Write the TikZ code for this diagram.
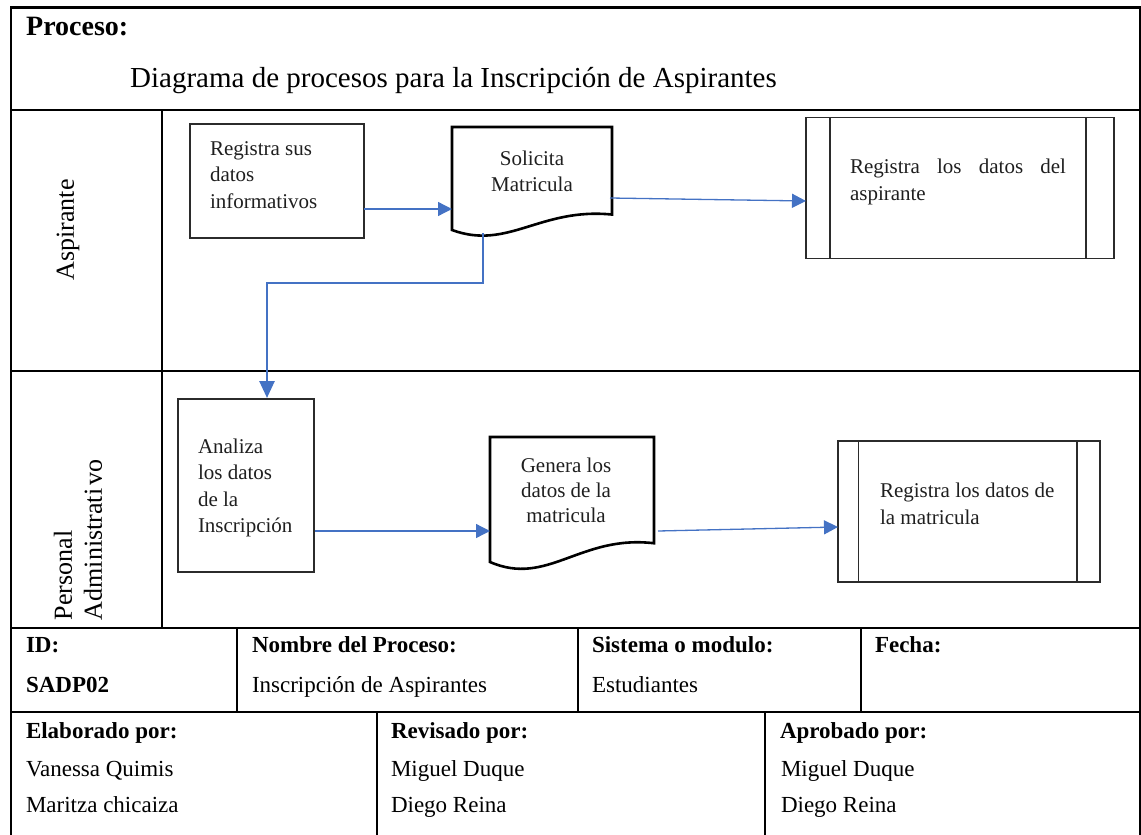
\documentclass[tikz,border=0pt]{standalone}
\usepackage{fontspec}
\setmainfont{Liberation Serif}
\usetikzlibrary{arrows.meta,calc}
\definecolor{flowblue}{HTML}{4472C4}
\definecolor{edgegray}{HTML}{2B2B2B}
\tikzset{
  hline/.style={line width=2.4pt, black},
  vline/.style={line width=2pt, black},
  procbox/.style={draw=edgegray, line width=1.3pt, rectangle, inner sep=0pt, outer sep=0pt},
  procline/.style={draw=edgegray, line width=1.3pt},
  docbox/.style={rectangle, inner sep=0pt, outer sep=0pt},
  docline/.style={draw=black, line width=2.6pt, line join=miter},
  flow/.style={draw=flowblue, line width=1.3pt, -{Triangle[length=14pt,width=14pt]}},
  elbow/.style={draw=flowblue, line width=2.6pt, -{Triangle[length=17pt,width=15pt]}},
  boxtxt/.style={inner sep=0pt, outer sep=0pt, text=black!88, font=\fontsize{21}{26.5}\selectfont},
  lanetxt/.style={inner sep=0pt, outer sep=0pt, rotate=90, align=left, font=\fontsize{26}{30}\selectfont},
  tabtxt/.style={inner sep=0pt, outer sep=0pt, anchor=base west, font=\fontsize{23}{28}\selectfont},
  tabhead/.style={tabtxt, font=\fontsize{23}{28}\selectfont\bfseries},
}
\newcommand\docoutline[1]{%
  \draw[docline] (#1.north west) -- (#1.north east) -- ($(#1.north east)!0.85!(#1.south east)$)
  .. controls ($($(#1.north west)!0.55!(#1.north east)$)!0.78!($(#1.south west)!0.55!(#1.south east)$)$)
  and ($($(#1.north west)!0.35!(#1.north east)$)!1.20!($(#1.south west)!0.35!(#1.south east)$)$)
  .. (#1.south west) -- cycle;}
\begin{document}
\begin{tikzpicture}[x=1pt,y=-1pt]
\useasboundingbox (0,0) rectangle (1141,835);

% ---- frame and table lines
\draw[hline] (11,7.5) -- (1141,7.5);
\draw[vline] (11,6.3) -- (11,835);
\draw[vline] (1140,6.3) -- (1140,835);
\draw[hline] (11,110) -- (1141,110);
\draw[hline] (11,371) -- (1141,371);
\draw[vline] (162,110) -- (162,628);
\draw[hline] (11,628) -- (1141,628);
\draw[vline] (237,628) -- (237,712);
\draw[vline] (578,628) -- (578,712);
\draw[vline] (861,628) -- (861,712);
\draw[hline] (11,712) -- (1141,712);
\draw[vline] (377,712) -- (377,835);
\draw[vline] (765,712) -- (765,835);

% ---- header
\node[inner sep=0pt, anchor=base west, font=\fontsize{28}{32}\selectfont\bfseries] (proc) at (26,35) {Proceso:};
\node[inner sep=0pt, anchor=base west, font=\fontsize{29}{34}\selectfont] (title) at (130,87) {Diagrama de procesos para la Inscripción de Aspirantes};

% ---- lane labels
\node[lanetxt, anchor=center] (lane1) at (68,230) {Aspirante};
\node[lanetxt, anchor=west] (lane2) at (78,620) {Personal\\Administrati\hspace{3pt}vo};

% ---- lane 1 shapes
\node[procbox, minimum width=174pt, minimum height=114pt] (b1) at (277,181) {};
\node[boxtxt, anchor=north west, align=left] (b1t) at (210,136.5) {\strut Registra sus\\datos\\informativos};

\node[docbox, minimum width=160pt, minimum height=103pt] (d1) at (532,178.5) {};
\docoutline{d1}
\node[boxtxt, anchor=north, align=center, font=\fontsize{21}{26}\selectfont] (d1t) at (532,146.8) {\strut Solicita\\Matricula};

\node[procbox, minimum width=308pt, minimum height=141pt] (s1) at (960,188) {};
\draw[procline] ($(s1.north west)+(24,0)$) -- ($(s1.south west)+(24,0)$);
\draw[procline] ($(s1.north east)+(-28,0)$) -- ($(s1.south east)+(-28,0)$);
\node[boxtxt, anchor=north west, align=left, font=\fontsize{21}{27}\selectfont] (s1t) at (850,154.1) {\strut\makebox[216pt][s]{Registra los datos del}\\aspirante};

% ---- lane 2 shapes
\node[procbox, minimum width=136pt, minimum height=173pt] (b2) at (246,485.5) {};
\node[boxtxt, anchor=north west, align=left] (b2t) at (198,434.5) {\strut Analiza\\los datos\\de la\\Inscripción};

\node[docbox, minimum width=164pt, minimum height=125pt] (d2) at (572,499.5) {};
\docoutline{d2}
\node[boxtxt, anchor=north, align=center, font=\fontsize{21}{25}\selectfont] (d2t) at (566,454.5) {\strut Genera los\\datos de la\\matricula};

\node[procbox, minimum width=262pt, minimum height=141pt] (s2) at (969,511.5) {};
\draw[procline] ($(s2.north west)+(20.5,0)$) -- ($(s2.south west)+(20.5,0)$);
\draw[procline] ($(s2.north east)+(-23,0)$) -- ($(s2.south east)+(-23,0)$);
\node[boxtxt, anchor=north west, align=left, font=\fontsize{21}{27}\selectfont] (s2t) at (880,478.1) {\strut Registra los datos de\\la matricula};

% ---- connectors
\draw[flow] ($(b1.east)+(0,28)$) -- ($(d1.west)+(0,30.5)$);
\draw[flow] ($(d1.east)+(-2,19.5)$) -- ($(s1.west)+(0,13)$);
\draw[elbow] ($(d1.south west)+(31,3)$) |- ($(b2.north)+(21,-116)$) -- ($(b2.north)+(21,-1)$);
\draw[flow] ($(b2.east)+(1,45.5)$) -- ($(d2.west)+(0,31.5)$);
\draw[flow] ($(d2.east)+(4,31.5)$) -- ($(s2.west)+(0,15.5)$);

% ---- table text
\node[tabhead] (idh) at (26,652) {ID:};
\node[tabhead] (idv) at (26,692) {SADP02};
\node[tabhead] (nph) at (252,652) {Nombre del Proceso:};
\node[tabtxt] (npv) at (252,692) {Inscripción de Aspirantes};
\node[tabhead] (smh) at (592,652) {Sistema o modulo:};
\node[tabtxt] (smv) at (592,692) {Estudiantes};
\node[tabhead] (fh) at (875,652) {Fecha:};

\node[tabhead] (eh) at (26,738) {Elaborado por:};
\node[tabtxt] (e1) at (26,776) {Vanessa Quimis};
\node[tabtxt] (e2) at (26,812) {Maritza chicaiza};
\node[tabhead] (rh) at (391,738) {Revisado por:};
\node[tabtxt] (r1) at (391,776) {Miguel Duque};
\node[tabtxt] (r2) at (391,812) {Diego Reina};
\node[tabhead] (ah) at (780,738) {Aprobado por:};
\node[tabtxt] (a1) at (781,776) {Miguel Duque};
\node[tabtxt] (a2) at (781,812) {Diego Reina};
\end{tikzpicture}
\end{document}
